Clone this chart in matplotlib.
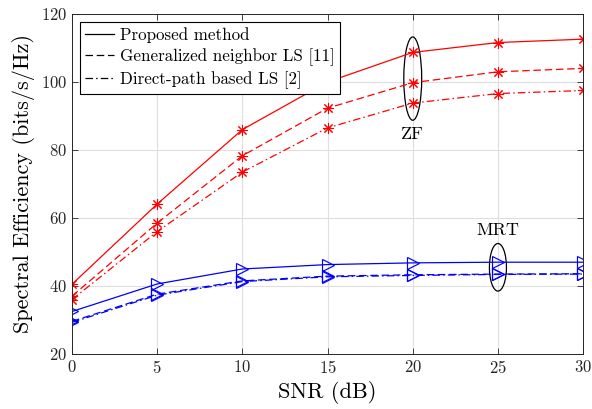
import matplotlib
matplotlib.use('Agg')
import matplotlib.pyplot as plt
from matplotlib.patches import Ellipse

plt.rcParams['font.family'] = 'serif'
plt.rcParams['font.serif'] = ['cmr10']
plt.rcParams['mathtext.fontset'] = 'cm'
plt.rcParams['axes.formatter.use_mathtext'] = True

snr = [0, 5, 10, 15, 20, 25, 30]

# ZF precoding
zf_proposed = [40.5, 64.1, 86.0, 100.0, 108.7, 111.6, 112.6]
zf_generalized = [37.0, 58.5, 78.3, 92.3, 99.8, 103.0, 104.0]
zf_direct = [36.0, 56.0, 73.5, 86.5, 93.8, 96.6, 97.5]

# MRT precoding
mrt_proposed = [32.5, 40.6, 45.0, 46.3, 46.8, 47.0, 47.0]
mrt_generalized = [29.6, 37.6, 41.5, 42.9, 43.3, 43.5, 43.6]
mrt_direct = [29.3, 37.3, 41.3, 42.7, 43.1, 43.4, 43.5]

legend_labels = ['Proposed method', 'Generalized neighbor LS [11]', 'Direct-path based LS [2]']

fig = plt.figure(figsize=(5.92, 4.09), dpi=100)
ax = fig.add_axes([0.1216, 0.1345, 0.8634, 0.8313])

styles = ['-', (0, (6, 3)), (0, (6, 2.5, 1.2, 2.5))]
for y, ls in zip([zf_proposed, zf_generalized, zf_direct], styles):
    ax.plot(snr, y, color='#ff0000', linestyle=ls, lw=0.9, marker=(8, 2, 0),
            markersize=8, markeredgewidth=0.75)
for y, ls in zip([mrt_proposed, mrt_generalized, mrt_direct], styles):
    ax.plot(snr, y, color='#0000ff', linestyle=ls, lw=0.9, marker='>',
            markersize=8, markerfacecolor='none', markeredgewidth=0.85)

# legend uses black proxies
handles = [ax.plot([], [], color='k', linestyle=ls, lw=0.9)[0] for ls in styles]
leg = ax.legend(handles, legend_labels, loc='upper left', fontsize=12.2,
                fancybox=False, framealpha=1, edgecolor='k',
                borderaxespad=0.45, handlelength=1.75, handletextpad=0.35,
                labelspacing=0.32, borderpad=0.3)
leg.get_frame().set_linewidth(0.8)

ax.add_patch(Ellipse((20, 101), 1.05, 24.5, fill=False, edgecolor='k', lw=0.9))
ax.text(20, 84.5, 'ZF', ha='center', va='center', fontsize=13)
ax.add_patch(Ellipse((25, 45.5), 1.0, 14, fill=False, edgecolor='k', lw=0.9))
ax.text(25, 56.3, 'MRT', ha='center', va='center', fontsize=13)

ax.set_xlim(0, 30)
ax.set_ylim(20, 120)
ax.set_xticks(range(0, 31, 5))
ax.set_yticks(range(20, 121, 20))
ax.grid(True, color='#dfdfdf', lw=0.8)
ax.set_axisbelow(True)
ax.tick_params(direction='in', top=True, right=True, labelsize=12,
               length=4, width=0.6, colors='#262626', labelcolor='#262626')
for s in ax.spines.values():
    s.set_linewidth(0.7)
    s.set_color('#262626')
ax.set_xlabel('SNR (dB)', fontsize=16)
ax.set_ylabel('Spectral Efficiency (bits/s/Hz)', fontsize=16)

fig.savefig('out.png', dpi=100)
